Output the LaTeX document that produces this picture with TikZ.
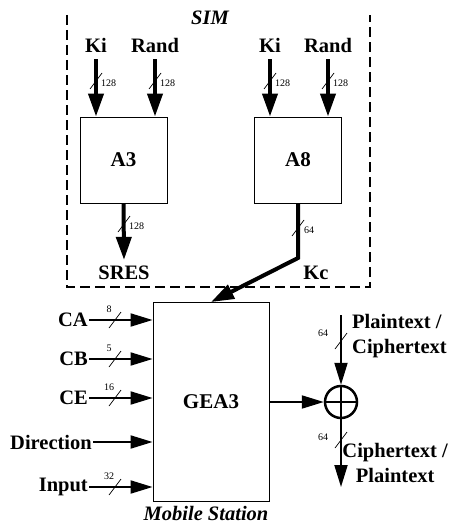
\documentclass[tikz,border=0pt]{standalone}
\usepackage{fontspec}
\setmainfont{Liberation Serif}
\usetikzlibrary{arrows.meta}

\begin{document}
\begin{tikzpicture}[x=1pt, y=-1pt,
    box/.style={draw, line width=0.9pt, minimum width=87pt, minimum height=86pt, font=\fontsize{21}{23}\selectfont\bfseries},
    lbl/.style={font=\fontsize{20.5}{25}\selectfont\bfseries, inner sep=0pt},
    ttl/.style={font=\fontsize{20.5}{22}\selectfont\bfseries\itshape, inner sep=0pt},
    wid/.style={font=\fontsize{10}{11}\selectfont, inner sep=0pt},
    bus/.style={line width=4pt, -{Triangle[length=23pt,width=15pt]}},
    sig/.style={line width=2pt, -{Triangle[length=22pt,width=13pt]}},
    tick/.style={line width=0.7pt},
    simframe/.style={line width=2.2pt, dash pattern=on 10pt off 5pt}
]
    \useasboundingbox (0,0) rectangle (450,527);

    % SIM part
    \draw[simframe] (67,15) -- (67,287) -- (370,287) -- (370,15);
    \node[ttl] (sim) at (210,18) {SIM};

    \node[box] (a3) at (123.5,160) {A3};
    \node[box] (a8) at (298,160) {A8};

    \node[lbl] (ki1) at (96,45) {Ki};
    \node[lbl] (rand1) at (155,45) {Rand};
    \node[lbl] (ki2) at (270,45) {Ki};
    \node[lbl] (rand2) at (328,45) {Rand};

    \foreach \src/\dst in {ki1/a3, rand1/a3, ki2/a8, rand2/a8} {
        \draw[bus] ([yshift=-7pt]\src.south) -- (\src.south |- \dst.north);
    }
    \foreach \x in {96,155,270,328} {
        \draw[tick] (\x-6,89) -- (\x+6,73);
        \node[wid, anchor=west] at (\x+5,83) {128};
    }

    \node[lbl] (sres) at (124,273) {SRES};
    \draw[bus] (a3.south) -- ([yshift=6pt]sres.north);
    \draw[tick] (118,232) -- (130,216);
    \node[wid, anchor=west] at (129,226) {128};

    % Kc to GEA3
    \node[box, minimum width=116pt, minimum height=199pt] (gea) at (211,402) {GEA3};
    \coordinate (kcbend) at (298,258);
    \draw[bus] (a8.south) -- (kcbend) -- (gea.north);
    \draw[tick] (292,236) -- (304,220);
    \node[wid, anchor=west] at (304,230) {64};
    \node[lbl] (kc) at (316,273) {Kc};

    % inputs
    \foreach \nm/\y/\w in {CA/320/8, CB/359/5, CE/398/16, Input/487/32} {
        \node[lbl, anchor=east] (in-\nm) at (88,\y) {\nm};
        \draw[sig, shorten <=1pt] (in-\nm.east) -- (in-\nm.east -| gea.west);
        \draw[tick] (109,\y+8) -- (121,\y-8);
        \node[wid] at (109,\y-11) {\w};
    }
    \node[lbl, anchor=east] (in-dir) at (92,442) {Direction};
    \draw[sig, shorten <=1pt] (in-dir.east) -- (in-dir.east -| gea.west);

    \node[ttl] (ms) at (206,513) {Mobile Station};

    % xor
    \node[circle, draw, line width=2.5pt, minimum size=32pt, inner sep=0pt] (xor) at (341,402) {};
    \draw[line width=2pt] (xor.north) -- (xor.south) (xor.west) -- (xor.east);
    \draw[sig] (gea.east) -- (xor.west);

    \coordinate (ptop) at (341,315);
    \coordinate (pbot) at (341,487);
    \draw[sig] (ptop) -- (xor.north);
    \draw[sig] (xor.south) -- (pbot);
    \draw[tick] (335,349) -- (347,333);
    \node[wid] at (323,333) {64};
    \draw[tick] (335,448) -- (347,432);
    \node[wid] at (323,437) {64};

    \node[lbl, align=left, anchor=west] (ptxt) at (352,336) {Plaintext /\\Ciphertext};
    \node[lbl, align=center, anchor=east] (ctxt) at (448,463) {Ciphertext /\\Plaintext};
\end{tikzpicture}
\end{document}
